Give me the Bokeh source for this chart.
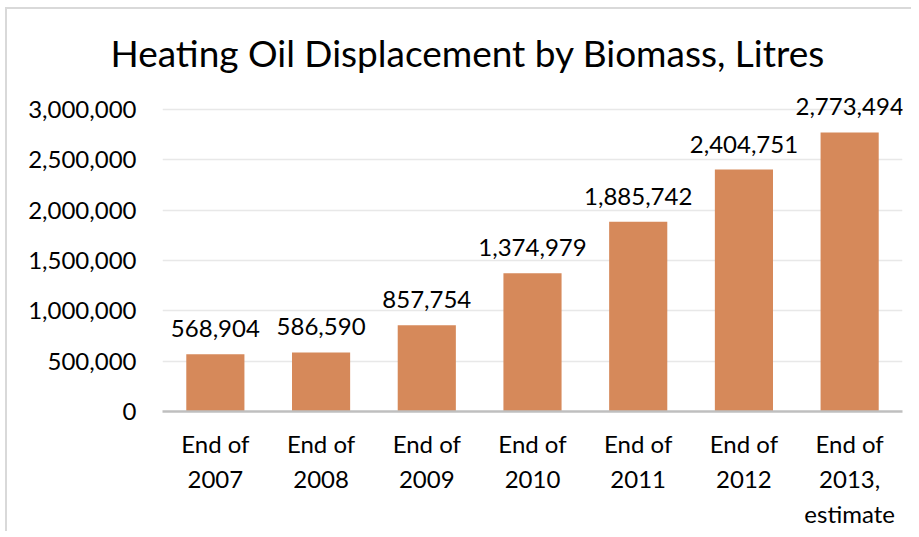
from bokeh.plotting import figure
from bokeh.models import ColumnDataSource, FixedTicker, NumeralTickFormatter, Range1d
from bokeh.core.properties import value
from bokeh.embed import file_html
from bokeh.resources import INLINE

categories = ["End of\n2007", "End of\n2008", "End of\n2009", "End of\n2010",
              "End of\n2011", "End of\n2012", "End of\n2013,\nestimate"]
litres = [568904, 586590, 857754, 1374979, 1885742, 2404751, 2773494]
labels = ["568,904", "586,590", "857,754", "1,374,979", "1,885,742", "2,404,751", "2,773,494"]
y_ticks = [0, 500000, 1000000, 1500000, 2000000, 2500000, 3000000]

FONT = "Lato"
BAR = "#D6895A"

src = ColumnDataSource(dict(cat=categories, val=litres, lab=labels))

p = figure(x_range=categories, y_range=Range1d(0, 3300000),
           frame_width=740, frame_height=332, output_backend="svg", toolbar_location=None,
           title="Heating Oil Displacement by Biomass, Litres",
           min_border_left=155, min_border_right=9, min_border_top=70, min_border_bottom=110)

p.styles = {"border-left": "2px solid #D9D9D9", "border-top": "2px solid #D9D9D9",
            "margin-left": "5px", "margin-top": "7px"}

p.vbar(x="cat", top="val", width=0.55, source=src, fill_color=BAR, line_color=None)
p.text(x="cat", y="val", text="lab", source=src, text_align="center", text_baseline="bottom",
       y_offset=-17, text_font=value(FONT), text_font_size="24px", text_color="#000000")

p.title.text_font = FONT
p.title.text_font_size = "37px"
p.title.text_font_style = "normal"
p.title.align = "left"
p.title.offset = -52
p.title.text_color = "#000000"

p.outline_line_color = None
p.xgrid.grid_line_color = None
p.ygrid.grid_line_color = "#E8E8E8"
p.ygrid.grid_line_width = 1.5

p.yaxis.ticker = FixedTicker(ticks=y_ticks)
p.yaxis.formatter = NumeralTickFormatter(format="0,0")
p.yaxis.axis_line_color = None
p.yaxis.major_tick_line_color = None
p.yaxis.minor_tick_line_color = None
p.yaxis.major_tick_out = 0
p.yaxis.major_tick_in = 0
p.yaxis.major_label_standoff = 26
p.yaxis.major_label_text_font = FONT
p.yaxis.major_label_text_font_size = "24px"
p.yaxis.major_label_text_color = "#000000"

p.xaxis.axis_line_color = "#BFBFBF"
p.xaxis.axis_line_width = 2.5
p.xaxis.major_tick_line_color = None
p.xaxis.minor_tick_line_color = None
p.xaxis.major_tick_out = 0
p.xaxis.major_tick_in = 0
p.xaxis.major_label_standoff = 17
p.xaxis.major_label_text_font = FONT
p.xaxis.major_label_text_font_size = "24px"
p.xaxis.major_label_text_color = "#000000"
p.xaxis.major_label_text_line_height = 1.22

open("out.html", "w").write(file_html(p, INLINE))
